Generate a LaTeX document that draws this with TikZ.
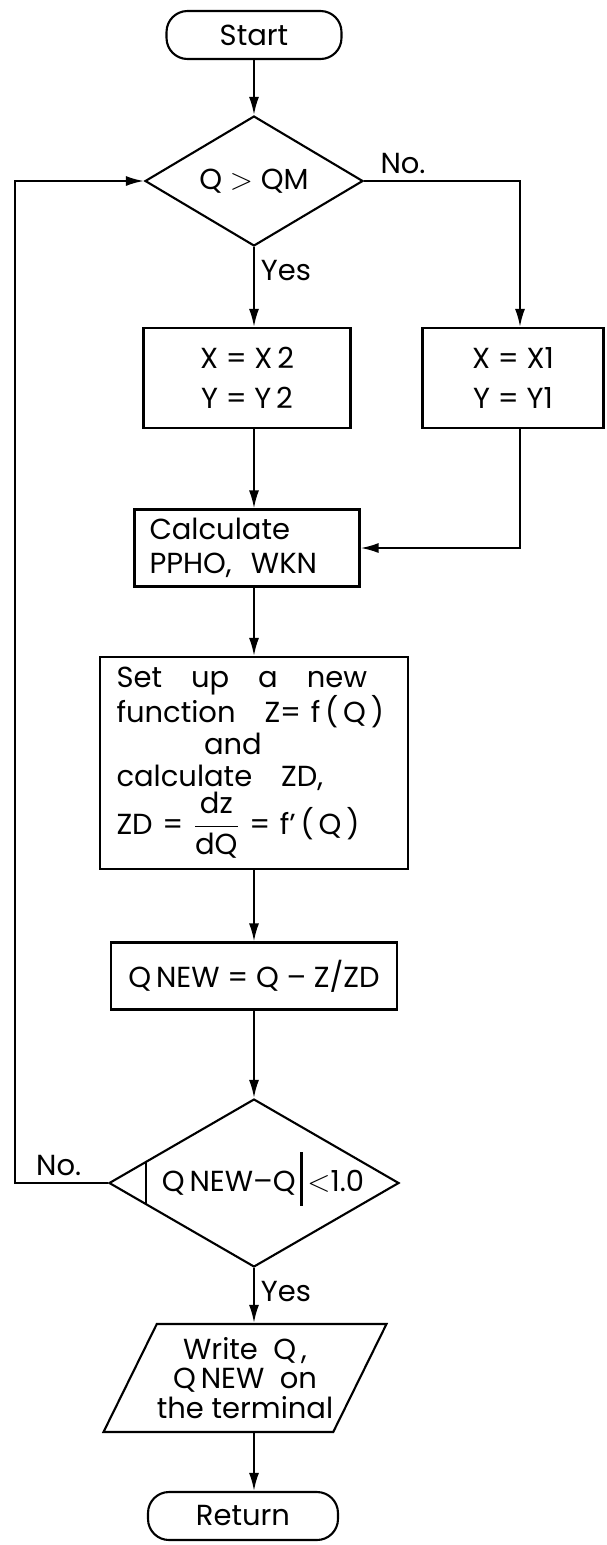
\documentclass[tikz,border=0pt]{standalone}
\usepackage{amsmath}
\usepackage{fontspec}
\setmainfont{Poppins}
\usetikzlibrary{shapes.geometric,arrows.meta,calc}

\begin{document}
\begin{tikzpicture}[x=0.02cm, y=-0.02cm, line width=1.2pt,
  font=\fontsize{16.5}{20}\selectfont,
  termnode/.style={draw, rectangle, rounded corners=0.42cm, minimum height=0.96cm},
  procnode/.style={draw, rectangle, align=center},
  decnode/.style={draw, diamond, inner sep=0pt, aspect=1.7},
  ionode/.style={draw, trapezium, trapezium left angle=57, trapezium right angle=123,
    trapezium stretches body, align=center, inner sep=0pt},
  arr/.style={-{Latex[length=3.6mm,width=2mm]}}]
\useasboundingbox (0,0) rectangle (606,1545);

\node[termnode, minimum width=3.5cm] (start) at (254,35) {Start};
\node[decnode, minimum width=4.36cm, minimum height=2.6cm] (q1) at (254,181) {Q $>$ QM};
\node[procnode, minimum width=4.14cm, minimum height=2cm] (x2) at (247,378) {X = X\,2\\[3pt]Y = Y\,2};
\node[procnode, minimum width=3.62cm, minimum height=2cm] (x1) at (513,378) {X = X1\\[3pt]Y = Y1};
\node[procnode, align=left, text width=3.9cm, minimum width=4.5cm, minimum height=1.54cm,
  font=\fontsize{16.5}{19}\selectfont] (calc) at (247,548) {Calculate\\PPHO,\ \ WKN};
\node[procnode, align=left, text width=5.5cm, minimum width=6.16cm, minimum height=4.24cm] (big) at (254,763)
  {Set\ \ \ up\ \ \ a\ \ \ new\\
   function\ \ \ Z= f\,(\,Q\,)\\[-2pt]
   \hspace*{1.75cm}and\\[-2pt]
   calculate\ \ \ ZD,\\
   ZD = $\dfrac{\mbox{dz}}{\mbox{dQ}}$ = f'\,(\,Q\,)};
\node[procnode, minimum width=5.72cm, minimum height=1.34cm] (qnew) at (254,976) {Q\,NEW = Q -- Z/ZD};
\node[decnode, minimum width=5.8cm, minimum height=3.36cm] (d2) at (254,1183)
  {\hspace*{0.36cm}Q\,NEW--Q\,\smash{\rule[-0.28cm]{1.2pt}{1.08cm}}\,$<$1.0};
\node[ionode, minimum width=5.28cm, minimum height=2.16cm,
  font=\fontsize{16.5}{17}\selectfont] (write) at (245,1378) {Write\ \ Q\,,\\Q\,NEW\ \ on\\the terminal};
\node[termnode, minimum width=3.8cm] (ret) at (243,1516) {Return};

\coordinate (nocorner) at (520,181);
\coordinate (loopbot) at (15,1183);
\coordinate (looptop) at (15,181);

\draw[arr] (start) -- (q1);
\draw[arr] (q1.south) -- node[right, pos=0.3]{Yes} (q1.south |- x2.north);
\draw[arr] (q1.east) -- node[above, pos=0.25]{No.} (nocorner) -- (nocorner |- x1.north);
\draw[arr] (q1.south |- x2.south) -- (q1.south |- calc.north);
\draw[arr] (nocorner |- x1.south) |- (calc.east);
\draw[arr] (q1.south |- calc.south) -- (big.north);
\draw[arr] (big) -- (qnew);
\draw[arr] (qnew) -- (d2);
\draw[arr] (d2.west) -- node[above, pos=0.53]{No.} (loopbot) -- (looptop) -- (q1.west);
\draw ($(d2.west)!0.26!(d2.north)$) -- ($(d2.west)!0.26!(d2.south)$);
\draw[arr] (d2.south) -- node[right, pos=0.42]{Yes} (d2.south |- write.north);
\draw[arr] (d2.south |- write.south) -- (d2.south |- ret.north);
\end{tikzpicture}
\end{document}
